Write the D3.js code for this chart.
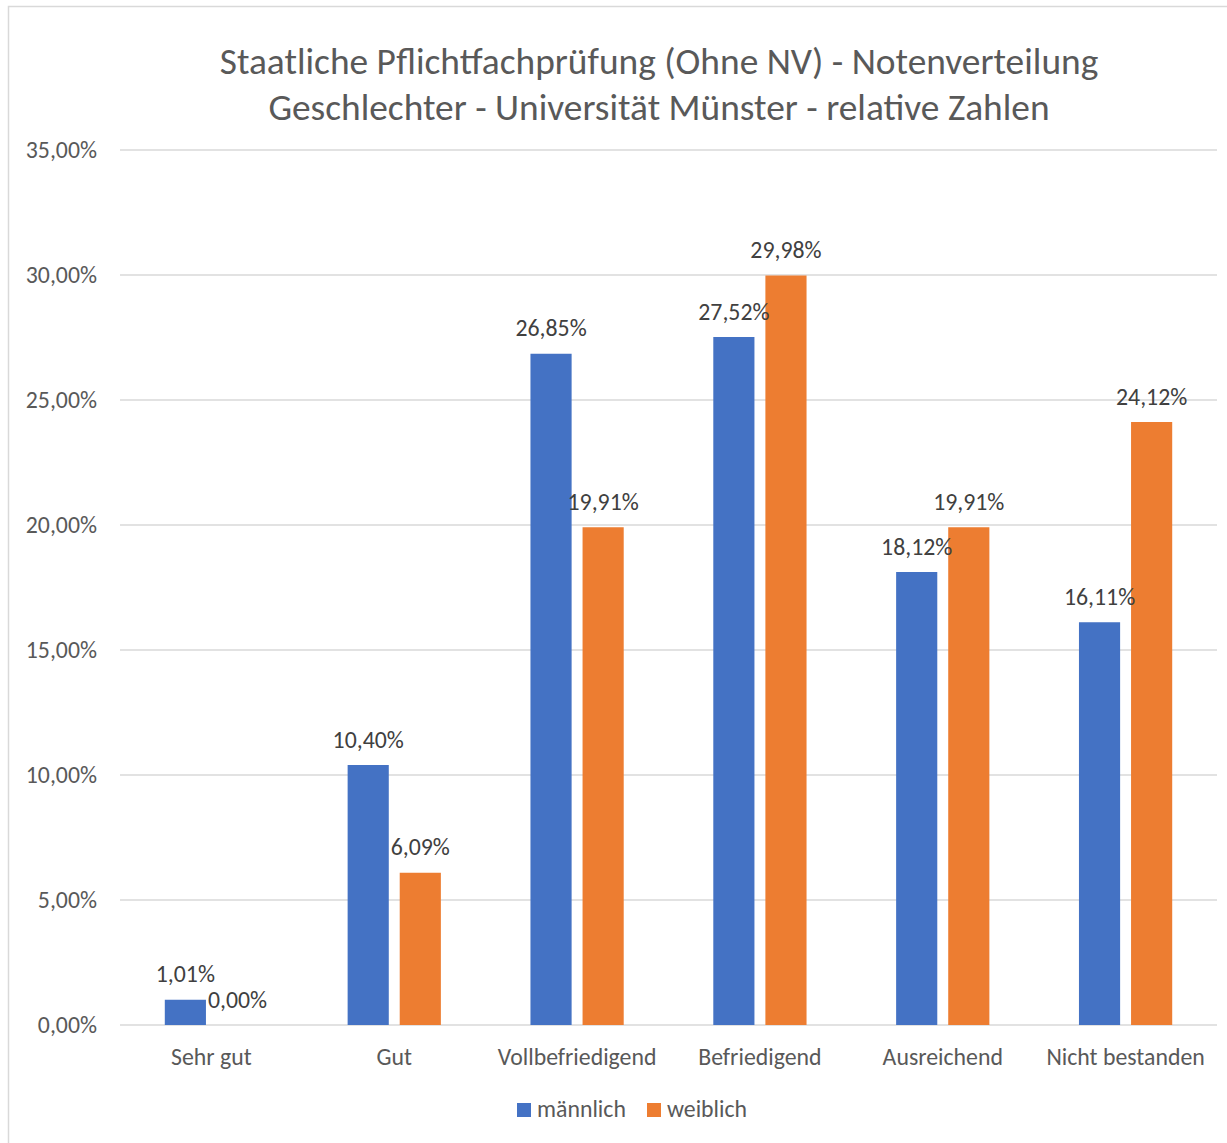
<!DOCTYPE html>
<html>
<head>
<meta charset="utf-8">
<script src="https://cdn.jsdelivr.net/npm/d3@7.9.0/dist/d3.min.js"></script>
<style>
  body { margin: 0; background: #fff; }
  svg { display: block; font-family: Carlito, Calibri, "Open Sans", sans-serif; }
</style>
</head>
<body>
<svg id="chart" width="1227" height="1143"></svg>
<script>
const categories = ['Sehr gut', 'Gut', 'Vollbefriedigend', 'Befriedigend', 'Ausreichend', 'Nicht bestanden'];
const series = ['männlich', 'weiblich'];
const maleValues = [1.01, 10.40, 26.85, 27.52, 18.12, 16.11];
const femaleValues = [0.00, 6.09, 19.91, 29.98, 19.91, 24.12];
const yTicks = [0, 5, 10, 15, 20, 25, 30, 35];
const titleLines = ['Staatliche Pflichtfachprüfung (Ohne NV) - Notenverteilung', 'Geschlechter - Universität Münster - relative Zahlen'];

const colors = { 'männlich': '#4472C4', 'weiblich': '#ED7D31' };
const textColor = '#595959';
const fontSize = 23.8;
const fmt = v => v.toFixed(2).replace('.', ',') + '%';

const svg = d3.select('#chart');

// chart frame
svg.append('rect')
  .attr('x', 8.5).attr('y', 6.5)
  .attr('width', 1240).attr('height', 1160)
  .attr('fill', '#fff').attr('stroke', '#D9D9D9').attr('stroke-width', 1.5);

// title
svg.append('g').selectAll('text')
  .data(titleLines)
  .join('text')
  .attr('x', 659).attr('y', (d, i) => 74 + i * 46)
  .attr('text-anchor', 'middle')
  .attr('fill', textColor)
  .attr('font-size', 37.4)
  .text(d => d);

const plotLeft = 120, plotRight = 1217, plotTop = 150, plotBottom = 1025;

const y = d3.scaleLinear().domain([0, 35]).range([plotBottom, plotTop]);
const x0 = d3.scaleBand().domain(categories).range([plotLeft, plotRight])
  .paddingInner(0.49).paddingOuter(0.245);
const x1 = d3.scaleBand().domain(series).range([0, x0.bandwidth()]).paddingInner(0.21);

// gridlines + y labels
const yAxis = svg.append('g');
yAxis.selectAll('line')
  .data(yTicks)
  .join('line')
  .attr('x1', plotLeft).attr('x2', plotRight)
  .attr('y1', d => y(d)).attr('y2', d => y(d))
  .attr('stroke', '#D9D9D9').attr('stroke-width', 1.5);
yAxis.selectAll('text')
  .data(yTicks)
  .join('text')
  .attr('x', 97).attr('y', d => y(d) + 8)
  .attr('text-anchor', 'end')
  .attr('fill', textColor).attr('font-size', fontSize)
  .text(d => fmt(d));

// bars
const rows = categories.map((c, i) => ({ cat: c, values: [
  { key: 'männlich', value: maleValues[i] },
  { key: 'weiblich', value: femaleValues[i] }
] }));

const groups = svg.append('g').selectAll('g')
  .data(rows)
  .join('g')
  .attr('transform', d => `translate(${x0(d.cat)},0)`);

groups.selectAll('rect')
  .data(d => d.values)
  .join('rect')
  .attr('x', d => x1(d.key))
  .attr('y', d => y(d.value))
  .attr('width', x1.bandwidth())
  .attr('height', d => plotBottom - y(d.value))
  .attr('fill', d => colors[d.key]);

groups.selectAll('text')
  .data(d => d.values)
  .join('text')
  .attr('x', d => x1(d.key) + x1.bandwidth() / 2)
  .attr('y', d => y(d.value) - 17.5)
  .attr('text-anchor', 'middle')
  .attr('fill', '#404040').attr('font-size', fontSize)
  .text(d => fmt(d.value));

// category labels
svg.append('g').selectAll('text')
  .data(categories)
  .join('text')
  .attr('x', d => x0(d) + x0.bandwidth() / 2)
  .attr('y', 1065)
  .attr('text-anchor', 'middle')
  .attr('fill', textColor).attr('font-size', fontSize)
  .text(d => d);

// legend
const legendX = [517, 647];
const legend = svg.append('g').selectAll('g')
  .data(series)
  .join('g')
  .attr('transform', (d, i) => `translate(${legendX[i]},1103)`);
legend.append('rect')
  .attr('width', 14).attr('height', 14)
  .attr('fill', d => colors[d]);
legend.append('text')
  .attr('x', 20).attr('y', 14)
  .attr('fill', textColor).attr('font-size', fontSize)
  .text(d => d);
</script>
</body>
</html>
